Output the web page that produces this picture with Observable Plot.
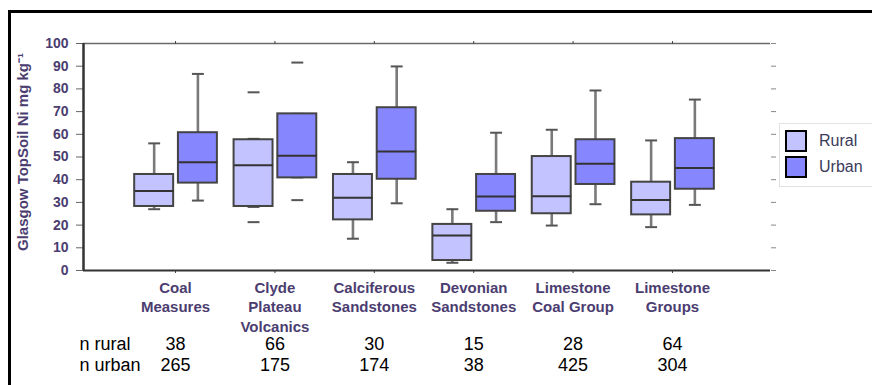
<!DOCTYPE html>
<html>
<head>
<meta charset="utf-8">
<script src="https://cdn.jsdelivr.net/npm/d3@7"></script>
<script src="https://cdn.jsdelivr.net/npm/@observablehq/plot@0.6"></script>
<style>
  html, body { margin: 0; padding: 0; background: #fff; }
  #wrap { position: relative; width: 872px; height: 385px; overflow: hidden; font-family: "Liberation Sans", Arial, sans-serif; }
  #frame { position: absolute; left: 8px; top: 10px; width: 900px; height: 420px; border-left: 3px solid #000; border-top: 3px solid #000; }
  #chart { position: absolute; left: 0; top: 0; }
  #legend { position: absolute; left: 779px; top: 123px; width: 100px; height: 62px; border: 1px solid #e2e2e2; background: #fff; }
  .item { position: absolute; left: 5px; height: 22px; }
  .sw { position: absolute; left: 0; top: 0; width: 18px; height: 18px; border: 2.5px solid #000; box-sizing: content-box; }
  .lab { position: absolute; left: 34px; top: 0px; font-size: 16px; line-height: 22px; color: #3a3a5a; white-space: nowrap; }
</style>
</head>
<body>
<div id="wrap">
  <div id="frame"></div>
  <div id="chart"></div>
  <div id="legend"></div>
</div>
<script>
// ---- data ----
const categories = ["Coal\nMeasures", "Clyde\nPlateau\nVolcanics", "Calciferous\nSandstones", "Devonian\nSandstones", "Limestone\nCoal Group", "Limestone\nGroups"];
const groups = ["Rural", "Urban"];
const groupColors = ["#c3c3ff", "#8686ff"];
// [lower whisker, Q1, median, Q3, upper whisker]
const ruralStats = [
  [27, 28.2, 35, 42.3, 56],
  [28, 28.2, 46.4, 57.6, 58],
  [14, 22.3, 32, 42.3, 47.7],
  [3.4, 4.4, 15.4, 20.3, 27],
  [19.8, 25, 32.7, 50.2, 62],
  [19.1, 24.5, 31.1, 38.9, 57.3]
];
const urbanStats = [
  [30.8, 38.5, 47.7, 60.7, 86.6],
  [41, 40.8, 50.5, 69, 69],
  [29.6, 40.2, 52.4, 71.7, 89.9],
  [21.3, 26.1, 32.6, 42.3, 60.7],
  [29.2, 37.9, 47, 57.6, 79.3],
  [28.9, 35.8, 45.2, 58.1, 75.3]
];
const outlierCategory = [2, 2, 2, 2];
const outlierGroup = ["Rural", "Rural", "Urban", "Urban"];
const outlierValue = [78.5, 21.3, 91.6, 31];
const nRural = [38, 66, 30, 15, 28, 64];
const nUrban = [265, 175, 174, 38, 425, 304];
const yTicks = [0, 10, 20, 30, 40, 50, 60, 70, 80, 90, 100];
const yTitle = "Glasgow TopSoil Ni mg kg\u207B\u00B9";

// ---- layout / style config ----
const xDomain = [0.074, 6.986];
const groupOffset = {Rural: -0.215, Urban: 0.225};
const halfBox = 0.196;
const capHalf = 0.06;
const labelColor = "#4b3d70";

const rows = [];
categories.forEach((c, i) => {
  [ruralStats, urbanStats].forEach((s, gi) => {
    const g = groups[gi];
    const v = s[i];
    rows.push({cat: i + 1, g, xc: i + 1 + groupOffset[g], lo: v[0], q1: v[1], med: v[2], q3: v[3], hi: v[4]});
  });
});
const outliers = outlierValue.map((v, i) => ({xc: outlierCategory[i] + groupOffset[outlierGroup[i]], v}));
const catIdx = categories.map((c, i) => i + 1);

const chart = Plot.plot({
  width: 872,
  height: 385,
  marginLeft: 83,
  marginRight: 102,
  marginTop: 43,
  marginBottom: 115,
  style: {background: "none", fontFamily: "'Liberation Sans', Arial, sans-serif"},
  x: {domain: xDomain, axis: null},
  y: {domain: [0, 100], axis: null},
  color: {domain: groups, range: groupColors},
  marks: [
    Plot.ruleY([100], {stroke: "#6a6a6a", strokeWidth: 1.5}),
    Plot.axisY({ticks: yTicks, label: null, tickSize: 7, tickPadding: 8, fontSize: 14, fontWeight: "bold", fill: labelColor, stroke: "#666", tickFormat: d => d}),
    Plot.axisY({anchor: "right", label: null, ticks: yTicks, tickSize: 5, tickPadding: 0, tickFormat: () => "", stroke: "#888"}),
    Plot.axisX({ticks: catIdx, label: null, tickSize: 3, tickPadding: 6, tickFormat: i => categories[i - 1], fontSize: 15, fontWeight: "bold", fill: labelColor, stroke: "#444", lineHeight: 1.28}),
    Plot.axisX({anchor: "top", label: null, ticks: catIdx, tickSize: 3, tickFormat: () => "", stroke: "#444"}),
    Plot.ruleX(rows, {x: "xc", y1: "lo", y2: "hi", stroke: "#7a7a7a", strokeWidth: 2.6}),
    Plot.link(rows, {x1: d => d.xc - capHalf, x2: d => d.xc + capHalf, y1: "hi", y2: "hi", stroke: "#555", strokeWidth: 2}),
    Plot.link(rows, {x1: d => d.xc - capHalf, x2: d => d.xc + capHalf, y1: "lo", y2: "lo", stroke: "#555", strokeWidth: 2}),
    Plot.rect(rows, {x1: d => d.xc - halfBox, x2: d => d.xc + halfBox, y1: "q1", y2: "q3", fill: "g", stroke: "#444", strokeWidth: 2}),
    Plot.link(rows, {x1: d => d.xc - halfBox, x2: d => d.xc + halfBox, y1: "med", y2: "med", stroke: "#333", strokeWidth: 2}),
    Plot.link(outliers, {x1: d => d.xc - capHalf, x2: d => d.xc + capHalf, y1: "v", y2: "v", stroke: "#555", strokeWidth: 2}),
    Plot.ruleY([0], {stroke: "#333", strokeWidth: 2}),
    Plot.ruleX([xDomain[0]], {stroke: "#333", strokeWidth: 2.5}),
    Plot.text([yTitle], {frameAnchor: "left", textAnchor: "middle", rotate: -90, dx: -60, dy: -5, fontSize: 15, fontWeight: "bold", fill: labelColor}),
    Plot.text(nRural, {x: (d, i) => i + 1, frameAnchor: "bottom", dy: 79, fontSize: 18, fill: "#000"}),
    Plot.text(nUrban, {x: (d, i) => i + 1, frameAnchor: "bottom", dy: 100, fontSize: 18, fill: "#000"}),
    Plot.text(["n rural"], {frameAnchor: "bottom-left", dx: -4, dy: 79, textAnchor: "start", fontSize: 18, fill: "#000"}),
    Plot.text(["n urban"], {frameAnchor: "bottom-left", dx: -4, dy: 100, textAnchor: "start", fontSize: 18, fill: "#000"})
  ]
});
document.getElementById("chart").appendChild(chart);

// legend
const legend = document.getElementById("legend");
groups.forEach((g, i) => {
  const item = document.createElement("div");
  item.className = "item";
  item.style.top = (6 + i * 26) + "px";
  const sw = document.createElement("div");
  sw.className = "sw";
  sw.style.background = chart.scale("color").apply(g);
  const lab = document.createElement("div");
  lab.className = "lab";
  lab.textContent = g;
  item.appendChild(sw);
  item.appendChild(lab);
  legend.appendChild(item);
});
</script>
</body>
</html>
